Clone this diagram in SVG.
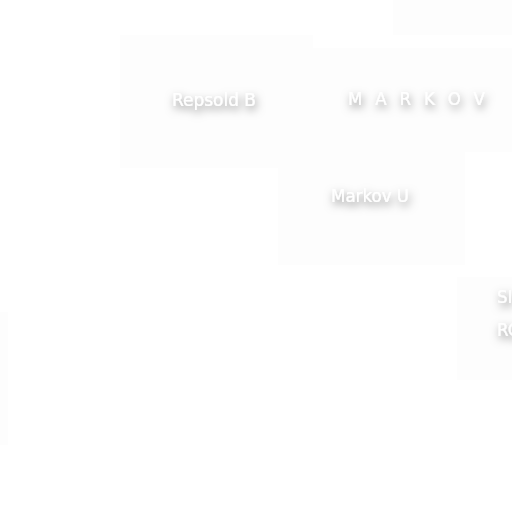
<svg xmlns="http://www.w3.org/2000/svg" width="512" height="512" viewBox="0 0 512 512">
  <defs>
    <filter id="shadow" x="-40%" y="-80%" width="180%" height="260%">
      <feDropShadow dx="1.5" dy="4" stdDeviation="4" flood-color="#000000" flood-opacity="0.5"/>
    </filter>
  </defs>
  <style>
    .card { fill: #fdfdfd; stroke: none; }
    .lbl { fill: #ffffff; font-family: "DejaVu Sans Condensed", "DejaVu Sans", sans-serif; font-size: 18.5px; filter: url(#shadow); }
  </style>
  <rect width="512" height="512" fill="#ffffff"/>
  <g id="connectors"></g>
  <g id="node-topright">
    <rect class="card" x="393" y="0" width="119" height="35"/>
  </g>
  <g id="node-left">
    <rect class="card" x="0" y="312" width="8" height="133"/>
  </g>
  <g id="node-repsold">
    <rect class="card" x="120" y="35" width="193" height="133"/>
    <text class="lbl" x="214" y="106" text-anchor="middle" textLength="84" lengthAdjust="spacingAndGlyphs">Repsold B</text>
  </g>
  <g id="node-markov">
    <rect class="card" x="313" y="48" width="199" height="104"/>
    <text class="lbl" x="348" y="105" textLength="137" lengthAdjust="spacing">M A R K O V</text>
  </g>
  <g id="node-markovu">
    <rect class="card" x="278" y="130" width="187" height="135"/>
    <text class="lbl" x="370" y="202" text-anchor="middle" textLength="78" lengthAdjust="spacingAndGlyphs">Markov U</text>
  </g>
  <g id="node-si">
    <rect class="card" x="457" y="277" width="55" height="103"/>
    <text class="lbl" x="497" y="303">SI</text>
    <text class="lbl" x="497" y="336">RC</text>
  </g>
</svg>
